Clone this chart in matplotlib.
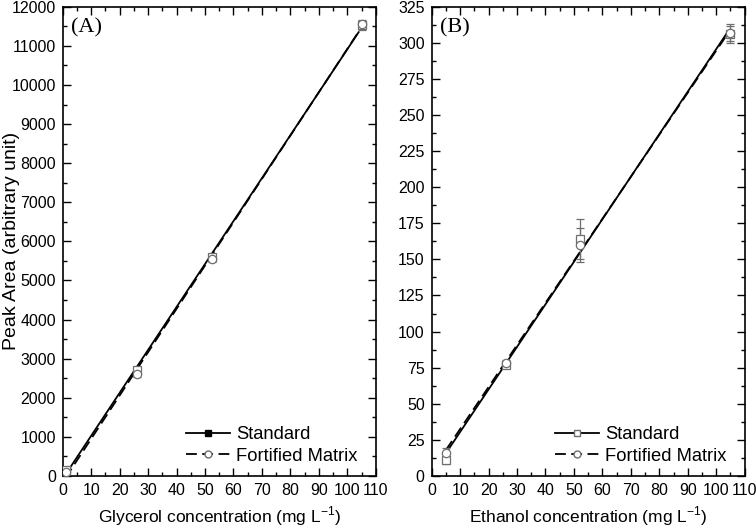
import numpy as np
import matplotlib.pyplot as plt
from matplotlib.ticker import MultipleLocator, AutoMinorLocator

plt.rcParams['font.family'] = ['Liberation Sans', 'DejaVu Sans']
plt.rcParams['mathtext.fontset'] = 'custom'
plt.rcParams['mathtext.rm'] = 'Liberation Sans'

# panel A - glycerol
gly_x = [1, 26, 52.5, 105]
gly_std = [150, 2700, 5600, 11530]
gly_std_err = [80, 90, 80, 110]
gly_fort = [100, 2600, 5550, 11560]
gly_fort_err = [70, 80, 70, 100]

# panel B - ethanol
eth_x = [5, 26, 52, 105]
eth_std = [11, 77, 164, 306]
eth_std_err = [3, 2, 14, 6]
eth_fort = [16, 78, 160, 307]
eth_fort_err = [3, 2, 12, 6]

gray = '#6e6e6e'

fig = plt.figure(figsize=(7.56, 5.27), dpi=100)
axA = fig.add_axes([0.083, 0.097, 0.414, 0.890])
axB = fig.add_axes([0.571, 0.097, 0.414, 0.890])


def panel(ax, x, ys, ye, yf, yfe, ymax, ystep, tag, xlabel, std_filled):
    x = np.array(x, dtype=float)
    xl = np.array([x[0], x[-1] - 1])
    ps = np.polyfit(x, ys, 1)
    pf = np.polyfit(x, yf, 1)
    ax.plot(xl, np.polyval(ps, xl), '-', color='k', lw=1.3)
    ax.plot(xl, np.polyval(pf, xl), '--', color='k', lw=1.3, dashes=(6, 3))
    ax.errorbar(x, ys, yerr=ye, fmt='s', mfc='white', mec=gray, ecolor=gray,
                ms=6, capsize=3, elinewidth=0.9, mew=0.9, zorder=3)
    ax.errorbar(x, yf, yerr=yfe, fmt='o', mfc='white', mec=gray, ecolor=gray,
                ms=6, capsize=3, elinewidth=0.9, mew=0.9, zorder=3)
    # legend proxies
    if std_filled:
        ax.plot([], [], '-s', color='k', mfc='k', mec='k', ms=5, lw=1.3, label='Standard')
    else:
        ax.plot([], [], '-s', color='k', mfc='white', mec=gray, ms=5, lw=1.3, label='Standard')
    ax.plot([], [], '--o', color='k', mfc='white', mec=gray, ms=5, lw=1.3,
            dashes=(6, 3), label='Fortified Matrix')
    ax.legend(loc='lower right', frameon=False, fontsize=13.2, handlelength=2.4,
              handletextpad=0.3, labelspacing=0.25, borderaxespad=0,
              bbox_to_anchor=(0.965, 0.008))
    ax.set_xlim(0, 110)
    ax.set_ylim(0, ymax)
    ax.xaxis.set_major_locator(MultipleLocator(10))
    ax.yaxis.set_major_locator(MultipleLocator(ystep))
    ax.xaxis.set_minor_locator(AutoMinorLocator(2))
    ax.yaxis.set_minor_locator(AutoMinorLocator(2))
    ax.tick_params(which='both', direction='in', top=True, right=True, labelsize=11.5, width=1)
    ax.tick_params(which='major', length=6, pad=5)
    ax.tick_params(which='minor', length=3)
    for s in ax.spines.values():
        s.set_linewidth(1.2)
    ax.set_xlabel(xlabel, fontsize=12.5, labelpad=5)
    ax.text(0.025, 0.975, tag, transform=ax.transAxes, fontsize=16,
            family='Liberation Serif', va='top', ha='left')


panel(axA, gly_x, gly_std, gly_std_err, gly_fort, gly_fort_err, 12000, 1000,
      '(A)', 'Glycerol concentration (mg L$^{-1}$)', True)
panel(axB, eth_x, eth_std, eth_std_err, eth_fort, eth_fort_err, 325, 25,
      '(B)', 'Ethanol concentration (mg L$^{-1}$)', False)
axA.set_ylabel('Peak Area (arbitrary unit)', fontsize=14)
axA.yaxis.set_label_coords(-0.137, 0.5)

fig.savefig('out.png', dpi=100)
